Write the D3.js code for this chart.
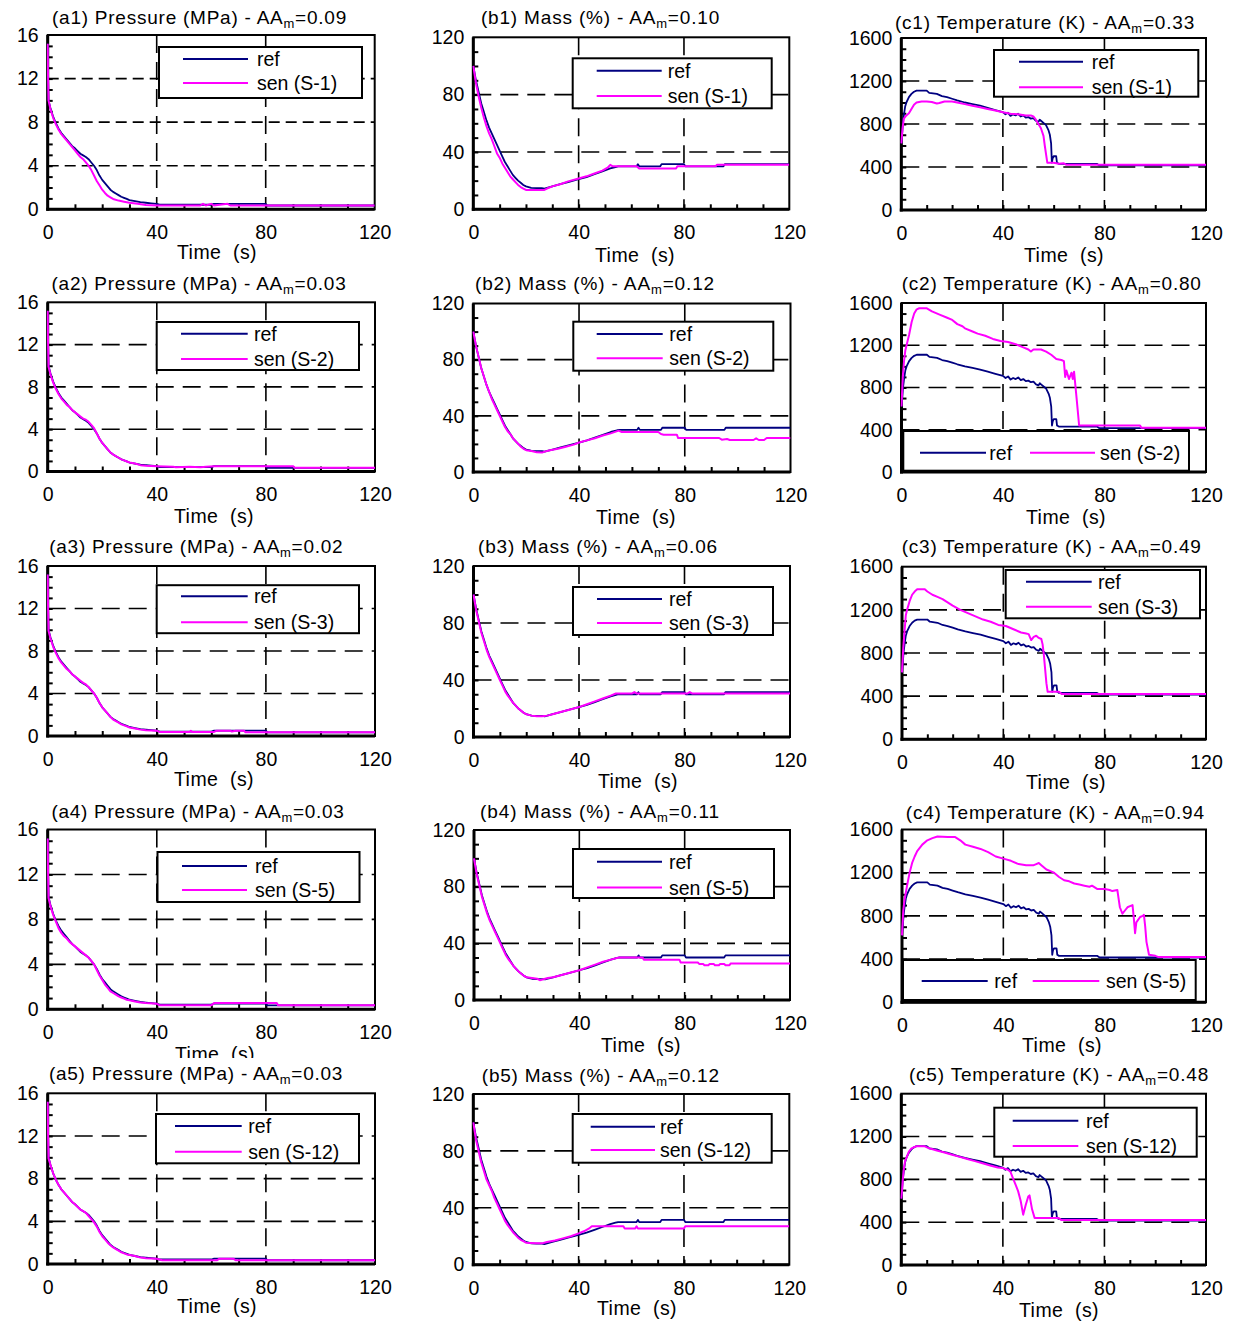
<!DOCTYPE html>
<html><head><meta charset="utf-8">
<script src="https://cdn.jsdelivr.net/npm/d3@7"></script>
<style>
body{margin:0;background:#fff}
svg{display:block}
</style>
</head><body>
<svg id="chart" width="1233" height="1324"></svg>
<script>
// ---------------- DATA ----------------
const timeTicks = [0, 40, 80, 120];
const pressureTicks = [0, 4, 8, 12, 16];
const massTicks = [0, 40, 80, 120];
const temperatureTicks = [0, 400, 800, 1200, 1600];
const quantityLabels = ["Pressure (MPa)", "Mass (%)", "Temperature (K)"];
const caseLabels = ["S-1", "S-2", "S-3", "S-5", "S-12"];
const aamPressure = ["0.09", "0.03", "0.02", "0.03", "0.03"];
const aamMass = ["0.10", "0.12", "0.06", "0.11", "0.12"];
const aamTemperature = ["0.33", "0.80", "0.49", "0.94", "0.48"];

// pressure (MPa) vs time (s)
const pressureRef = [[0,15.2],[0.1,12.5],[0.3,10.0],[1,9.3],[2,8.5],[3,7.9],[4,7.4],[5,7.0],[6,6.7],[7,6.4],[8,6.1],[9,5.8],[10,5.6],[11,5.35],[12,5.1],[13,4.95],[14,4.8],[15,4.6],[16,4.3],[17,4.0],[18,3.6],[19,3.1],[20,2.7],[21,2.4],[22,2.1],[23,1.8],[24,1.6],[25,1.45],[26,1.3],[27,1.15],[28,1.05],[29,0.95],[30,0.85],[32,0.75],[34,0.65],[36,0.6],[38,0.55],[40,0.5],[41,0.42],[60,0.42],[61,0.5],[80,0.5],[80.5,0.35],[120,0.35]];
const pressureSen1 = [[0,15.2],[0.1,12.5],[0.3,10.0],[1,9.2],[2,8.4],[3,7.8],[4,7.3],[5,6.9],[6,6.6],[7,6.3],[8,6.0],[9,5.7],[10,5.4],[11,5.1],[12,4.8],[13,4.6],[14,4.3],[15,4.0],[16,3.6],[17,3.1],[18,2.6],[19,2.2],[20,1.8],[21,1.5],[22,1.25],[23,1.1],[24,0.95],[26,0.8],[28,0.7],[30,0.6],[33,0.5],[36,0.4],[40,0.35],[56,0.35],[57,0.5],[58,0.35],[60,0.5],[61,0.35],[66,0.5],[67,0.35],[120,0.35]];
const pressureSen2 = [[0,15.2],[0.1,12.5],[0.3,9.9],[1,9.2],[2,8.4],[3,7.8],[4,7.3],[5,6.9],[6,6.6],[7,6.3],[8,6.1],[9,5.8],[10,5.6],[11,5.4],[12,5.2],[13,5.0],[14,4.9],[15,4.7],[16,4.4],[17,4.1],[18,3.6],[19,3.1],[20,2.7],[21,2.4],[22,2.1],[23,1.8],[24,1.6],[25,1.45],[26,1.3],[27,1.15],[28,1.05],[29,0.95],[30,0.85],[32,0.75],[34,0.6],[36,0.55],[40,0.5],[46,0.45],[47,0.4],[52,0.45],[56,0.4],[58,0.45],[61,0.5],[90,0.5],[90.5,0.35],[120,0.35]];
const pressureSen3 = [[0,15.2],[0.1,12.5],[0.3,9.9],[1,9.2],[2,8.4],[3,7.8],[4,7.3],[5,6.9],[6,6.6],[7,6.3],[8,6.1],[9,5.8],[10,5.6],[11,5.4],[12,5.2],[13,5.0],[14,4.85],[15,4.6],[16,4.3],[17,4.0],[18,3.6],[19,3.1],[20,2.7],[21,2.4],[22,2.1],[23,1.8],[24,1.55],[25,1.4],[26,1.25],[27,1.1],[28,1.0],[29,0.9],[30,0.8],[32,0.7],[34,0.6],[36,0.55],[40,0.5],[41,0.38],[52,0.38],[52.5,0.48],[53,0.38],[61,0.38],[62,0.5],[67,0.5],[67.5,0.42],[69,0.5],[72,0.5],[72.5,0.35],[120,0.35]];
const pressureSen5 = [[0,15.2],[0.1,12.5],[0.3,9.9],[1,9.2],[2,8.4],[3,7.8],[4,7.2],[5,6.8],[6,6.5],[7,6.3],[8,6.0],[9,5.8],[10,5.6],[11,5.4],[12,5.2],[13,5.0],[14,4.8],[15,4.6],[16,4.3],[17,4.0],[18,3.5],[19,3.0],[20,2.6],[21,2.2],[22,1.9],[23,1.6],[24,1.45],[25,1.3],[26,1.15],[27,1.05],[28,0.95],[29,0.85],[30,0.8],[32,0.7],[34,0.6],[36,0.55],[40,0.5],[41,0.35],[60,0.35],[61,0.55],[84,0.55],[84.5,0.35],[120,0.35]];
const pressureSen12 = [[0,15.2],[0.1,12.5],[0.3,9.9],[1,9.3],[2,8.5],[3,7.9],[4,7.4],[5,7.0],[6,6.7],[7,6.4],[8,6.1],[9,5.8],[10,5.6],[11,5.35],[12,5.1],[13,4.95],[14,4.8],[15,4.5],[16,4.2],[17,3.9],[18,3.5],[19,3.0],[20,2.6],[21,2.3],[22,2.0],[23,1.75],[24,1.55],[25,1.4],[26,1.25],[27,1.1],[28,1.0],[29,0.9],[30,0.85],[32,0.75],[34,0.6],[36,0.55],[40,0.5],[42,0.35],[62,0.35],[63,0.5],[68,0.5],[69,0.35],[120,0.35]];

// mass (%) vs time (s)
const massRef = [[0,100],[1,90],[2,82],[3,74],[4,68],[5,62],[6,57],[7,53],[8,49],[9,45],[10,41],[11,37],[12,33],[13,30],[14,27],[15,24],[16,22],[17,20],[18,18.5],[19,17],[20,16],[21,15.5],[22,15],[24,14.8],[26,14.8],[27,14.5],[28,15],[30,16],[33,17.5],[36,19],[40,21],[43,22.5],[46,24.5],[49,26.5],[52,28.5],[54,29.5],[55,30],[62,30],[62.5,31.5],[63,30],[71,30],[71.5,31.5],[80,31.5],[80.5,30],[95,30],[95.5,31.5],[120,31.5]];
const massSen1 = [[0,100],[1,88],[2,79],[3,71],[4,64],[5,58],[6,53],[7,49],[8,44],[9,39],[10,36],[11,32],[12,29],[13,26],[14,23],[15,21],[16,19],[17,17],[18,15.5],[19,14.5],[20,13.5],[27,13.5],[28,14.5],[30,16],[33,17.5],[36,19.5],[40,21.5],[43,23],[46,25],[49,27],[51,29],[52,31],[53,30],[62,30],[63,28.5],[77,28.5],[77.5,30],[92,30],[92.5,31],[120,31]];
const massSen2 = [[0,100],[1,90],[2,82],[3,74],[4,68],[5,62],[6,57],[7,52],[8,48],[9,44],[10,40],[11,36],[12,32],[13,29],[14,27],[15,24],[16,22],[17,20],[18,18],[19,16.5],[20,15.5],[22,15],[24,14],[26,13.8],[27,14.5],[29,15.5],[32,16.5],[35,18],[38,19.5],[40,21],[43,22.5],[46,24],[49,26],[52,27.5],[55,29.5],[56,28.5],[70,28.5],[71,27],[72,26.6],[77,26.6],[77.5,24.2],[93,24.2],[94,23],[96,23.5],[97,22.8],[106,22.8],[107,24],[108,22.8],[110,22.8],[111,24.2],[120,24.2]];
const massSen3 = [[0,100],[1,89],[2,81],[3,73],[4,67],[5,61],[6,56],[7,52],[8,48],[9,44],[10,40],[11,36],[12,32],[13,29],[14,26.5],[15,24],[16,22],[17,20],[18,18.5],[19,17],[20,16],[22,15],[24,14.5],[26,14.5],[28,15],[30,16],[33,17.5],[36,19],[40,21],[43,23],[46,25],[49,27],[52,29],[54,30.5],[60,30.5],[61,31.5],[62,30.5],[81,30.5],[82,31.5],[83,30.5],[120,30.5]];
const massSen5 = [[0,100],[1,89],[2,81],[3,73],[4,67],[5,61],[6,56],[7,52],[8,48],[9,44],[10,40],[11,36],[12,32],[13,29],[14,26.5],[15,24],[16,22],[17,20],[18,18.5],[19,17],[20,16],[22,15.5],[24,15],[25,14],[26,14.5],[28,15.5],[30,16],[33,17.5],[36,19],[40,21],[43,23],[46,25],[49,27],[52,28.5],[55,30],[64,30],[64.5,28.5],[78,28.5],[78.5,26.5],[85,26.5],[85.5,25.5],[87,25.5],[87.5,24.5],[89,24.5],[89.5,25.5],[91,25.5],[91.5,24.5],[93,24.5],[93.5,25.5],[95,25.5],[95.5,24.5],[97,24.5],[97.5,25.8],[120,25.8]];
const massSen12 = [[0,100],[1,88],[2,80],[3,72],[4,66],[5,60],[6,56],[7,52],[8,47],[9,43],[10,39],[11,35],[12,31],[13,28],[14,25.5],[15,23],[16,21],[17,19],[18,17.5],[19,16.5],[20,15.5],[24,15],[26,15],[28,16],[31,17],[34,18.5],[37,20],[40,22],[42,23.5],[44,25.5],[45,27],[57,27],[57.5,25.5],[61.5,25.5],[62,27],[62.5,25.5],[80,25.5],[80.5,27],[120,27]];

// temperature (K) vs time (s)
const temperatureRef = [[0,620],[0.3,700],[0.6,800],[1,880],[1.5,960],[2,1000],[3,1050],[4,1080],[5,1100],[6,1110],[10,1110],[11,1090],[14,1080],[16,1060],[18,1050],[20,1035],[22,1020],[25,1000],[28,985],[31,970],[34,950],[37,930],[40,910],[41,890],[42,905],[43,875],[44,890],[45,880],[46,895],[47,870],[48,880],[49,860],[50,865],[51,850],[52,855],[53,830],[54,820],[54.5,840],[55,830],[56,810],[57,790],[58,740],[58.5,700],[59,620],[59.3,440],[59.6,480],[60,500],[61,500],[61.3,440],[62,430],[77,430],[78,415],[120,415]];
const temperatureSen1 = [[0,620],[0.5,760],[1,850],[2,880],[3,900],[4,940],[5,980],[6,1000],[8,1010],[10,1010],[12,1005],[14,990],[15,995],[17,1010],[20,1010],[22,1000],[25,985],[28,970],[31,955],[34,940],[37,925],[40,910],[43,895],[46,890],[49,880],[51,880],[52,870],[53,840],[54,800],[55,760],[56,690],[56.5,600],[57,520],[57.5,440],[60,440],[62,430],[64,435],[65,420],[120,420]];
const temperatureSen2 = [[0,620],[0.5,900],[1,1050],[1.5,1150],[2,1200],[3,1300],[4,1420],[5,1500],[6,1540],[7,1550],[10,1550],[12,1520],[15,1490],[18,1460],[20,1440],[22,1400],[24,1380],[25,1360],[28,1330],[30,1310],[33,1290],[36,1260],[39,1240],[42,1230],[45,1210],[48,1180],[50,1160],[51,1140],[52,1160],[55,1160],[57,1140],[59,1110],[61,1070],[63,1060],[64,1050],[64.5,900],[65,960],[66,880],[67,940],[67.5,880],[68,950],[69,700],[70,440],[94,440],[94.5,420],[120,420]];
const temperatureSen3 = [[0,620],[0.5,850],[1,1000],[1.5,1150],[2,1200],[3,1280],[4,1340],[5,1370],[6,1390],[9,1390],[10,1370],[12,1340],[14,1320],[16,1300],[18,1270],[20,1240],[23,1200],[26,1170],[29,1140],[32,1110],[35,1090],[38,1060],[41,1050],[44,1020],[47,990],[49,980],[50,975],[51,920],[52,950],[53,960],[54,940],[55,930],[55.5,880],[56,780],[56.5,650],[57,520],[57.5,440],[62,440],[63,420],[120,420]];
const temperatureSen5 = [[0,620],[0.5,850],[1,950],[2,1080],[3,1200],[4,1290],[5,1350],[6,1400],[8,1460],[10,1500],[12,1520],[14,1535],[18,1530],[21,1530],[23,1500],[25,1460],[28,1440],[31,1420],[34,1390],[37,1350],[40,1330],[43,1310],[46,1280],[49,1270],[52,1270],[53,1280],[54,1290],[55,1270],[57,1230],[60,1200],[62,1160],[64,1130],[66,1120],[68,1100],[70,1090],[72,1080],[74,1070],[75,1080],[77,1050],[80,1050],[82,1040],[83,1030],[85,1040],[85.5,960],[86,880],[87,820],[88,850],[89,880],[90,890],[91,900],[91.5,780],[92,640],[92.5,740],[94,790],[95,800],[95.5,810],[96,700],[96.5,560],[97.5,440],[100,430],[101,420],[120,420]];
const temperatureSen12 = [[0,620],[0.3,700],[0.6,800],[1,900],[1.5,970],[2,1000],[3,1060],[4,1090],[5,1100],[6,1110],[9,1110],[11,1090],[14,1070],[17,1050],[20,1030],[23,1010],[26,990],[29,970],[32,950],[35,930],[38,910],[40,905],[42,890],[43,870],[44,810],[45,750],[46,690],[47,600],[48,470],[49,560],[50,640],[50.5,650],[51.5,520],[52.5,440],[62,440],[63,420],[120,420]];

// ---------------- LAYOUT (pixels) ----------------
const plotBoxes = [
  {x0:47.7,x1:374.7,y0:35,y1:209.3},{x0:473.3,x1:789.3,y0:37.3,y1:209.3},{x0:901.3,x1:1206,y0:38,y1:210},
  {x0:47.7,x1:375,y0:302.3,y1:471.5},{x0:473.3,x1:790.5,y0:303.5,y1:472},{x0:901.5,x1:1206,y0:303,y1:472},
  {x0:47.7,x1:375,y0:566,y1:736},{x0:473.5,x1:790,y0:566,y1:737},{x0:902,x1:1206,y0:566.7,y1:739.3},
  {x0:47.7,x1:375,y0:829.5,y1:1009.3},{x0:474,x1:790,y0:830,y1:1000},{x0:902,x1:1206,y0:829.5,y1:1002.3},
  {x0:47.7,x1:375,y0:1093.3,y1:1264},{x0:473.3,x1:789.3,y0:1094,y1:1264.7},{x0:901.3,x1:1206,y0:1093.7,y1:1265}
];
const legendBoxes = [
  {x:159,y:47,w:203,h:51,l0:24,l1:89,tx:98,r1:12,r2:36},
  {x:572.7,y:58.3,w:199,h:50,l0:24,l1:89,tx:95,r1:12.4,r2:37.7},
  {x:994,y:50,w:204.3,h:46.7,l0:25,l1:89,tx:97.7,r1:11.7,r2:37.3},
  {x:156.7,y:322,w:202.3,h:48,l0:24.3,l1:91,tx:97.3,r1:11.8,r2:37},
  {x:573.3,y:321.7,w:200,h:49,l0:23.4,l1:89.4,tx:96,r1:12.3,r2:36.6},
  {x:903.3,y:431,w:285.7,h:39.7,inline:true,ry:21.7,items:[[16.7,82.7,86],[126.7,191.7,196.7]]},
  {x:156.7,y:585.2,w:202.3,h:48,l0:24.3,l1:91,tx:97.3,r1:11.1,r2:37},
  {x:573,y:587,w:200,h:48,l0:24,l1:89,tx:96,r1:12,r2:36},
  {x:1005.7,y:570,w:194.3,h:48.3,l0:20.3,l1:86,tx:92.3,r1:11.7,r2:36.7},
  {x:157.5,y:852,w:202,h:50,l0:24.5,l1:89.5,tx:97.5,r1:14,r2:38},
  {x:573,y:849,w:201,h:49,l0:24,l1:89,tx:96,r1:12.7,r2:38.5},
  {x:903,y:960,w:292.7,h:40,inline:true,ry:21,items:[[18.7,84.7,91.3],[129.7,196.3,203]]},
  {x:156,y:1114,w:203,h:49.3,l0:19,l1:85.7,tx:92.3,r1:12,r2:37.7},
  {x:572.7,y:1114,w:199,h:48.7,l0:18,l1:82.3,tx:87.3,r1:12.7,r2:36},
  {x:994.3,y:1107.7,w:202.4,h:49,l0:18.4,l1:84,tx:91.7,r1:13,r2:38.3}
];
const titleBoxes = [
  {cx:199.5,cy:17,w:295},{cx:600.5,cy:17,w:239},{cx:1045,cy:22,w:300},
  {cx:199,cy:283,w:295},{cx:595,cy:283.3,w:240},{cx:1051.7,cy:283.3,w:300},
  {cx:196.3,cy:546,w:294},{cx:598,cy:546,w:240},{cx:1051.7,cy:546.7,w:300},
  {cx:198,cy:811,w:293},{cx:600,cy:811,w:240},{cx:1055.3,cy:812.7,w:299},
  {cx:196,cy:1073.3,w:294},{cx:600.8,cy:1075,w:238},{cx:1059,cy:1074,w:300}
];
const timeLabelPos = [
  [217,252],[635,255],[1064,255],
  [214,516],[636,517],[1066,517],
  [214,779],[638,781],[1066,782],
  [215,1054],[641,1045],[1062,1045],
  [217,1306],[637,1308],[1059,1310]
];

const FONT = "'Liberation Sans', Arial, Helvetica, sans-serif";
const REF_COLOR = "#000080";
const SEN_COLOR = "#ff00ff";

const yTickSets = [pressureTicks, massTicks, temperatureTicks];
const refSets = [pressureRef, massRef, temperatureRef];
const senSets = [
  [pressureSen1, massSen1, temperatureSen1],
  [pressureSen2, massSen2, temperatureSen2],
  [pressureSen3, massSen3, temperatureSen3],
  [pressureSen5, massSen5, temperatureSen5],
  [pressureSen12, massSen12, temperatureSen12]
];
const aamSets = [aamPressure, aamMass, aamTemperature];

const svg = d3.select("#chart");
svg.append("rect").attr("width",1233).attr("height",1324).attr("fill","#fff");
const defs = svg.append("defs");
defs.append("clipPath").attr("id","cutA4").append("rect").attr("x",0).attr("y",1000).attr("width",420).attr("height",58);

function fitText(sel, target) {
  const node = sel.node();
  const len = node.getComputedTextLength();
  const n = node.textContent.length;
  if (n > 1) sel.attr("letter-spacing", ((target - len) / n).toFixed(2));
}

for (let i = 0; i < 15; i++) {
  const row = Math.floor(i / 3), col = i % 3;
  const b = plotBoxes[i];
  const ticks = yTickSets[col];
  const ymax = ticks[ticks.length - 1];
  const x = d3.scaleLinear().domain([0, 120]).range([b.x0, b.x1]);
  const y = d3.scaleLinear().domain([0, ymax]).range([b.y1, b.y0]);
  const g = svg.append("g").attr("font-family", FONT);
  const clipId = "clip" + i;
  defs.append("clipPath").attr("id", clipId).append("rect")
    .attr("x", b.x0 - 1).attr("y", b.y0).attr("width", b.x1 - b.x0 + 1).attr("height", b.y1 - b.y0);

  // grid
  const hDash = i === 0 ? "11,6" : "18,9";
  g.append("g").selectAll("line").data(ticks.slice(1, -1)).join("line")
    .attr("x1", b.x0).attr("x2", b.x1).attr("y1", d => y(d)).attr("y2", d => y(d))
    .attr("stroke", "#000").attr("stroke-width", 1.6).attr("stroke-dasharray", hDash);
  g.append("g").selectAll("line").data(timeTicks.slice(1, -1)).join("line")
    .attr("y1", b.y0).attr("y2", b.y1).attr("x1", d => x(d)).attr("x2", d => x(d))
    .attr("stroke", "#000").attr("stroke-width", 1.6).attr("stroke-dasharray", "18,9");

  // minor ticks
  const step = ticks[1] / 4;
  const xm = g.append("g").attr("transform", `translate(0,${b.y1})`)
    .call(d3.axisBottom(x).tickValues(d3.range(10, 120, 10)).tickSize(-5).tickFormat(""));
  xm.select(".domain").remove();
  xm.selectAll("line").attr("stroke-width", 2);
  const ym = g.append("g").attr("transform", `translate(${b.x0},0)`)
    .call(d3.axisLeft(y).tickValues(d3.range(step, ymax, step)).tickSize(-5).tickFormat(""));
  ym.select(".domain").remove();
  ym.selectAll("line").attr("stroke-width", 2);

  // frame
  g.append("rect").attr("x", b.x0).attr("y", b.y0).attr("width", b.x1 - b.x0).attr("height", b.y1 - b.y0)
    .attr("fill", "none").attr("stroke", "#000").attr("stroke-width", 2);
  g.append("line").attr("x1", b.x0).attr("x2", b.x0).attr("y1", b.y0).attr("y2", b.y1 + 1.5)
    .attr("stroke", "#000").attr("stroke-width", 3);
  g.append("line").attr("x1", b.x0 - 1.5).attr("x2", b.x1).attr("y1", b.y1).attr("y2", b.y1)
    .attr("stroke", "#000").attr("stroke-width", 3);

  // series (drawn over the frame, as in the original)
  const line = d3.line().x(d => x(d[0])).y(d => y(d[1]));
  const lg = g.append("g").attr("clip-path", `url(#${clipId})`);
  lg.append("path").datum(refSets[col]).attr("d", line).attr("fill", "none")
    .attr("stroke", REF_COLOR).attr("stroke-width", 1.8).attr("stroke-linejoin", "round");
  lg.append("path").datum(senSets[row][col]).attr("d", line).attr("fill", "none")
    .attr("stroke", SEN_COLOR).attr("stroke-width", 2).attr("stroke-linejoin", "round");

  // legend
  const L = legendBoxes[i];
  const items = [{label: "ref", color: REF_COLOR}, {label: `sen (${caseLabels[row]})`, color: SEN_COLOR}];
  const lgd = g.append("g").attr("transform", `translate(${L.x},${L.y})`);
  lgd.append("rect").attr("width", L.w).attr("height", L.h).attr("fill", "#fff")
    .attr("stroke", "#000").attr("stroke-width", 2);
  items.forEach((it, k) => {
    let l0, l1, tx, ry;
    if (L.inline) { [l0, l1, tx] = L.items[k]; ry = L.ry; }
    else { l0 = L.l0; l1 = L.l1; tx = L.tx; ry = k ? L.r2 : L.r1; }
    lgd.append("line").attr("x1", l0).attr("x2", l1).attr("y1", ry).attr("y2", ry)
      .attr("stroke", it.color).attr("stroke-width", 2);
    lgd.append("text").attr("x", tx).attr("y", ry + 7).attr("font-size", 19.5).text(it.label);
  });

  // tick labels
  const xa = g.append("g").attr("transform", `translate(0,${b.y1})`)
    .call(d3.axisBottom(x).tickValues(timeTicks).tickSize(0).tickPadding(16).tickFormat(d3.format("d")));
  xa.select(".domain").remove();
  xa.attr("font-family", FONT).attr("font-size", 19.5);
  xa.selectAll("text").attr("fill", "#000");
  const ya = g.append("g").attr("transform", `translate(${b.x0},0)`)
    .call(d3.axisLeft(y).tickValues(ticks).tickSize(0).tickPadding(9).tickFormat(d3.format("d")));
  ya.select(".domain").remove();
  ya.attr("font-family", FONT).attr("font-size", 19.5);
  ya.selectAll("text").attr("fill", "#000");

  // title
  const T = titleBoxes[i];
  const panelId = "abc"[col] + (row + 1);
  const t = g.append("text").attr("x", T.cx).attr("y", T.cy + 6.5).attr("text-anchor", "middle")
    .attr("font-size", 19);
  t.append("tspan").text(`(${panelId}) ${quantityLabels[col]} - AA`);
  t.append("tspan").attr("font-size", 13).attr("dy", 4).text("m");
  t.append("tspan").attr("dy", -4).text(`=${aamSets[col][row]}`);
  fitText(t, T.w);

  // x-axis title
  const [tlx, tly] = timeLabelPos[i];
  const tl = g.append("text").attr("x", tlx).attr("y", tly + 7).attr("text-anchor", "middle")
    .attr("font-size", 19.5).style("white-space", "pre").text("Time  (s)");
  if (i === 9) tl.attr("clip-path", "url(#cutA4)");
  fitText(tl, 80);
}
</script>
</body></html>
